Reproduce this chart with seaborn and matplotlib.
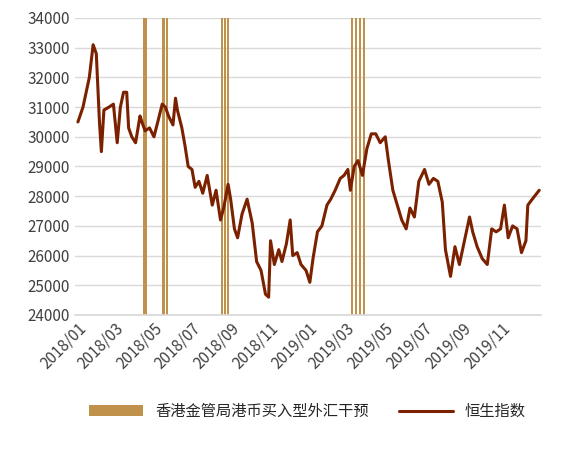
import matplotlib
matplotlib.use("Agg")
import matplotlib.pyplot as plt
import seaborn as sns
import pandas as pd

idx_dates = ["2018-01-02","2018-01-10","2018-01-20","2018-01-26","2018-01-31","2018-02-05","2018-02-08","2018-02-12","2018-02-20","2018-02-27",
"2018-03-05","2018-03-10","2018-03-15","2018-03-20","2018-03-23","2018-03-28","2018-04-03","2018-04-10","2018-04-13","2018-04-18","2018-04-25",
"2018-05-02","2018-05-08","2018-05-15","2018-05-20","2018-05-25","2018-06-01","2018-06-05","2018-06-08","2018-06-15","2018-06-20","2018-06-25",
"2018-07-01","2018-07-06","2018-07-12","2018-07-18","2018-07-25","2018-08-02","2018-08-08","2018-08-15","2018-08-20","2018-08-27","2018-08-31",
"2018-09-06","2018-09-11","2018-09-18","2018-09-26","2018-10-04","2018-10-11","2018-10-18","2018-10-25","2018-10-30","2018-11-02","2018-11-08",
"2018-11-15","2018-11-20","2018-11-27","2018-12-03","2018-12-07","2018-12-14","2018-12-20","2018-12-28","2019-01-03","2019-01-08","2019-01-15",
"2019-01-22","2019-01-30","2019-02-05","2019-02-12","2019-02-20","2019-02-26","2019-03-04","2019-03-08","2019-03-14","2019-03-20","2019-03-27",
"2019-04-03","2019-04-10","2019-04-17","2019-04-24","2019-05-02","2019-05-07","2019-05-14","2019-05-21","2019-05-28","2019-06-04","2019-06-10",
"2019-06-17","2019-06-24","2019-07-03","2019-07-10","2019-07-17","2019-07-24","2019-07-31","2019-08-05","2019-08-13","2019-08-20","2019-08-27",
"2019-09-04","2019-09-12","2019-09-17","2019-09-24","2019-10-02","2019-10-10","2019-10-17","2019-10-24","2019-10-31","2019-11-06","2019-11-12",
"2019-11-19","2019-11-26","2019-12-03","2019-12-10","2019-12-13","2019-12-20","2019-12-31"]
idx_values = [30500,31000,32000,33100,32800,30500,29500,30900,31000,31100,
29800,31000,31500,31500,30300,30000,29800,30700,30500,30200,30300,
30000,30500,31100,31000,30700,30400,31300,30900,30300,29700,29000,
28900,28300,28500,28100,28700,27700,28200,27200,27600,28400,27900,
26900,26600,27400,27900,27100,25800,25500,24700,24600,26500,25700,
26200,25800,26400,27200,26000,26100,25700,25500,25100,25900,26800,
27000,27700,27900,28200,28600,28700,28900,28200,29000,29200,28700,
29600,30100,30100,29800,30000,29200,28200,27700,27200,26900,27600,
27300,28500,28900,28400,28600,28500,27800,26200,25300,26300,25700,
26500,27300,26800,26300,25900,25700,26900,26800,26900,27700,26600,
27000,26900,26100,26500,27700,27900,28200]
intervention_dates = ["2018-04-16","2018-04-17","2018-04-18","2018-04-19","2018-05-17","2018-05-22",
"2018-08-17","2018-08-22","2018-08-27","2019-03-11","2019-03-17","2019-03-23","2019-03-29"]
tick_labels = ["2018/01","2018/03","2018/05","2018/07","2018/09","2018/11","2019/01","2019/03","2019/05","2019/07","2019/09","2019/11"]

sns.set_theme(style="white")
plt.rcParams['font.family'] = ['Noto Sans CJK SC', 'DejaVu Sans']

fig, ax = plt.subplots(figsize=(5.75, 4.5), dpi=100)
ymin, ymax = 24000, 34000
iv = pd.to_datetime(intervention_dates)
ax.bar(iv, [ymax - ymin] * len(iv), bottom=ymin, width=3.5, color="#C0914A", linewidth=0,
       label="香港金管局港币买入型外汇干预", zorder=2)
df = pd.DataFrame({"date": pd.to_datetime(idx_dates), "v": idx_values})
sns.lineplot(data=df, x="date", y="v", ax=ax, color="#7B2100", linewidth=2.2, label="恒生指数", zorder=3)

ax.set_ylim(ymin, ymax)
ax.set_xlim(pd.Timestamp("2017-12-28"), pd.Timestamp("2020-01-02"))
ax.set_yticks(range(24000, 34001, 1000))
ax.yaxis.grid(True, color="#D9D9D9", linewidth=1)
ax.set_axisbelow(True)
ticks = pd.to_datetime([t.replace("/", "-") + "-01" for t in tick_labels])
ax.set_xticks(ticks)
ax.set_xticklabels(tick_labels, rotation=45, ha="right", rotation_mode="anchor")
ax.tick_params(axis="both", labelsize=11, colors="#404040", length=0)
ax.set_xlabel(""); ax.set_ylabel("")
for s in ["top", "right", "left"]:
    ax.spines[s].set_visible(False)
ax.spines["bottom"].set_color("#D9D9D9")
h, l = ax.get_legend_handles_labels()
order = [l.index("香港金管局港币买入型外汇干预"), l.index("恒生指数")]
ax.legend([h[i] for i in order], [l[i] for i in order], loc="upper center", bbox_to_anchor=(0.5, -0.25),
          ncol=2, frameon=False, fontsize=11, handlelength=3.5, columnspacing=2)
fig.subplots_adjust(left=0.13, right=0.94, top=0.96, bottom=0.30)
fig.savefig("out.png", dpi=100)
